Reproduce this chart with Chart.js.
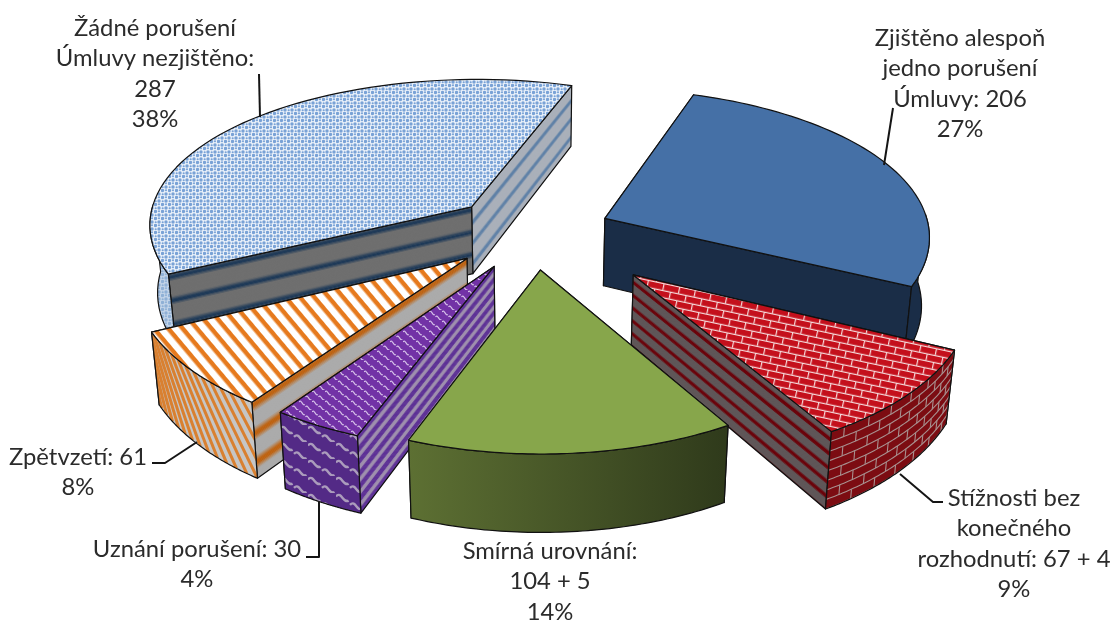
<!DOCTYPE html>
<html lang="cs">
<head>
<meta charset="utf-8">
<title>Výsledky stížností</title>
<script src="https://cdn.jsdelivr.net/npm/chart.js@4"></script>
<style>
  html, body { margin: 0; background: #fff; }
  canvas { display: block; }
</style>
</head>
<body>
<canvas id="pie" width="1111" height="621"></canvas>
<script>
'use strict';

// ─── Data ────────────────────────────────────────────────
const categories = [
  'Zjištěno alespoň jedno porušení Úmluvy',
  'Stížnosti bez konečného rozhodnutí',
  'Smírná urovnání',
  'Uznání porušení',
  'Zpětvzetí',
  'Žádné porušení Úmluvy nezjištěno',
];
const caseCounts = [206, 67 + 4, 104 + 5, 30, 61, 287];
const labelLines = [
  ['Zjištěno alespoň', 'jedno porušení', 'Úmluvy: 206', '27%'],
  ['Stížnosti bez', 'konečného', 'rozhodnutí: 67 + 4', '9%'],
  ['Smírná urovnání:', '104 + 5', '14%'],
  ['Uznání porušení: 30', '4%'],
  ['Zpětvzetí: 61', '8%'],
  ['Žádné porušení', 'Úmluvy nezjištěno:', '287', '38%'],
];

// ─── Layout of the labels and leader lines ───────────────
const labelAnchors = [[960, 38], [1014, 498], [550, 551], [197, 549], [78, 457], [155, 28]];
const leaderLines = [
  [[893, 108], [884, 165]],
  [[900, 474], [933, 502], [943, 502]],
  [],
  [[319, 502], [319, 557], [306, 557]],
  [[197, 442], [165, 463], [152, 463]],
  [[259, 74], [260, 117]],
];

// ─── Projection constants (flat pie -> tilted drum) ──────
const PERSPECTIVE = 0.107;
const TILT = 0.462;
const DEPTH = 68;
const CONVERGE = 0.02;

// ─── Textures ────────────────────────────────────────────
const ctx = document.getElementById('pie').getContext('2d');

function tile(w, h, paint, angle) {
  const c = document.createElement('canvas');
  c.width = w; c.height = h;
  paint(c.getContext('2d'), w, h);
  const p = ctx.createPattern(c, 'repeat');
  if (angle) p.setTransform(new DOMMatrix().rotate(angle));
  return p;
}

const speckleTile = (dot, bg) => tile(7, 7, (t) => {
  t.fillStyle = bg; t.fillRect(0, 0, 7, 7);
  t.fillStyle = dot;
  [[1.5, 1.5], [5, 5], [5, 1.2], [1.7, 5.2]].forEach(([x, y], i) => {
    t.beginPath(); t.arc(x, y, i < 2 ? 1.7 : 1.05, 0, Math.PI * 2); t.fill();
  });
});

const brickTile = tile(16, 14, (t) => {
  t.fillStyle = '#c4101c'; t.fillRect(0, 0, 16, 14);
  t.fillStyle = '#f6dcdc';
  t.fillRect(0, 5.8, 16, 1.2); t.fillRect(0, 12.8, 16, 1.2);
  t.fillRect(4, 0, 1.2, 5.8); t.fillRect(12, 7, 1.2, 5.8);
}, 12);

// horizontal bands turned to the stripe angle, so the repeat has no seam
const diagonalTile = tile(2, 11, (t) => {
  t.fillStyle = '#fff'; t.fillRect(0, 0, 2, 11);
  t.fillStyle = '#e67a1e'; t.fillRect(0, 3, 2, 4.5);
}, 50);

function weaveTile(bg, line, w, h, lw) {
  return tile(w, h, (t) => {
    t.fillStyle = bg; t.fillRect(0, 0, w, h);
    t.strokeStyle = line; t.lineWidth = lw;
    [[0, h * 0.2], [w / 2, h * 0.7], [-w / 2, h * 0.7]].forEach(([x, y]) => {
      t.beginPath();
      t.moveTo(x, y);
      t.bezierCurveTo(x + w * 0.2, y - h * 0.35, x + w * 0.25, y + h * 0.45, x + w * 0.45, y + h * 0.25);
      t.stroke();
    });
  });
}

// ─── Per-slice styling, in the order of the data ─────────
const redCut = { base: '#5f5658', stripe: '#6c0008', count: 5.5, phase: 0.9, width: 0.3, soft: 0.2 };
const purpleCut = { base: '#9f90ae', stripe: '#5c2e96', count: 6.4, phase: 0.3, width: 0.55, soft: 0.25 };
const orangeCut = { base: '#ababab', stripe: '#bf620f', count: 2.7, phase: 0.365, width: 0.3, soft: 0.4 };

const sliceStyles = [
  {
    top: '#4570a6',
    cuts: [{ base: '#1a2d47' }, { base: '#1a2d47' }],
    rim: () => '#1a2d47',
  },
  {
    top: brickTile,
    cuts: [redCut, redCut],
    rim: () => '#7c0c12',
    bricks: true,
  },
  {
    top: '#87a64b',
    cuts: [{ base: '#4e602a' }, { base: '#33401d' }],
    rim: (pts) => {
      const g = ctx.createLinearGradient(pts[0][0], 0, pts[pts.length - 1][0], 0);
      g.addColorStop(0, '#2f3a1b');
      g.addColorStop(1, '#5d7033');
      return g;
    },
  },
  {
    top: weaveTile('#7232a6', '#d4bfe8', 13, 10, 1.2),
    cuts: [purpleCut, purpleCut],
    rim: () => weaveTile('#532a86', '#ab9cbc', 28, 17, 2.4),
  },
  {
    top: diagonalTile,
    cuts: [orangeCut, orangeCut],
    rim: () => '#c6c6c6',
    slants: true,
  },
  {
    top: speckleTile('#79a2d6', '#e9f0f9'),
    cuts: [
      { base: '#6f6f6f', stripe: '#1f3a58', count: 3, phase: 0.35, width: 0.22, soft: 0.3 },
      { base: '#aab0ba', stripe: '#5a7ea6', count: 3.3, phase: 0.675, width: 0.25, soft: 0.25 },
    ],
    rim: () => speckleTile('#8fb0d6', '#c3d4e8'),
  },
];

const sliceOffsets = [78, 132, 80, 82, 86, 84];

// ─── Helpers ─────────────────────────────────────────────
const hexRgb = h => [1, 3, 5].map(i => parseInt(h.slice(i, i + 2), 16));

function mixColor(a, b, k) {
  const A = hexRgb(a), B = hexRgb(b);
  return `rgb(${A.map((v, i) => Math.round(v + (B[i] - v) * k)).join(',')})`;
}

function polygon(pts, fill, stroke) {
  ctx.beginPath();
  pts.forEach((p, i) => (i ? ctx.lineTo(p[0], p[1]) : ctx.moveTo(p[0], p[1])));
  ctx.closePath();
  if (fill) { ctx.fillStyle = fill; ctx.fill(); }
  if (stroke) { ctx.strokeStyle = '#111'; ctx.lineWidth = 1.2; ctx.lineJoin = 'round'; ctx.stroke(); }
}

function bandColor(cut, z) {
  const t = ((z * cut.count + cut.phase) % 1 + 1) % 1;
  const d = Math.abs(t - 0.5) * 2;
  const k = Math.min(1, Math.max(0, (cut.width - d) / cut.soft + 0.5));
  return mixColor(cut.base, cut.stripe, k);
}

// Pie element -> screen position; z runs 0 (top face) to 1 (bottom face)
function makeProjector(arc) {
  const R = arc.outerRadius;
  return (px, py, z) => {
    const s = 1 / (1 - PERSPECTIVE * (py / R));
    return [
      arc.x + px * s * (1 - CONVERGE * z),
      arc.y + py * TILT * Math.pow(s, 1.2) + DEPTH * z * s,
    ];
  };
}

function drawCut(project, A, P, cut) {
  const quad = [project(A[0], A[1], 0), project(P[0], P[1], 0), project(P[0], P[1], 1), project(A[0], A[1], 1)];
  polygon(quad, cut.base);
  if (cut.stripe) {
    const N = 60;
    for (let i = 0; i < N; i++) {
      const z0 = i / N, z1 = Math.min(1, (i + 1.4) / N);
      polygon([
        project(A[0], A[1], z0), project(P[0], P[1], z0),
        project(P[0], P[1], z1), project(A[0], A[1], z1),
      ], bandColor(cut, (z0 + z1) / 2));
    }
  }
  polygon(quad, null, true);
}

function drawRim(project, center, R, a0, a1, style) {
  // only the part of the wall turned towards the viewer
  const angles = [];
  for (let i = 0; i <= 60; i++) {
    const a = a0 + (a1 - a0) * i / 60;
    if (Math.sin(a) > -0.03) angles.push(a);
  }
  if (angles.length < 2) return;
  const at = (a, z) => project(center[0] + R * Math.cos(a), center[1] + R * Math.sin(a), z);
  const upper = angles.map(a => at(a, 0));
  const lower = angles.map(a => at(a, 1)).reverse();
  const outline = upper.concat(lower);
  polygon(outline, style.rim(upper));

  ctx.save();
  polygon(outline);
  ctx.clip();
  const first = angles[0], last = angles[angles.length - 1];
  if (style.bricks) {
    ctx.strokeStyle = '#a8908f'; ctx.lineWidth = 1.1;
    const courses = 8, step = 0.09;
    for (let c = 0; c <= courses; c++) {
      const z = c / courses;
      ctx.beginPath();
      angles.forEach((a, i) => { const p = at(a, z); i ? ctx.lineTo(p[0], p[1]) : ctx.moveTo(p[0], p[1]); });
      ctx.stroke();
      for (let a = first + (c % 2) * step / 2; a < last; a += step) {
        const p = at(a, z), q = at(a, z + 1 / courses);
        ctx.beginPath(); ctx.moveTo(p[0], p[1]); ctx.lineTo(q[0], q[1]); ctx.stroke();
      }
    }
  }
  if (style.slants) {
    ctx.strokeStyle = '#d98030'; ctx.lineWidth = 3;
    const step = 0.04, lean = 0.16;
    for (let a = first - 0.6; a < last + 0.6; a += step) {
      const p = at(a + lean, 0), q = at(a, 1);
      ctx.beginPath(); ctx.moveTo(p[0], p[1]); ctx.lineTo(q[0], q[1]); ctx.stroke();
    }
  }
  ctx.restore();
  polygon(outline, null, true);
}

function drawSlice(arc, style) {
  const { startAngle: a0, endAngle: a1, outerRadius: R } = arc;
  const mid = (a0 + a1) / 2;
  const off = arc.options.offset;
  const A = [off * Math.cos(mid), off * Math.sin(mid)];
  const P = a => [A[0] + R * Math.cos(a), A[1] + R * Math.sin(a)];
  const project = makeProjector(arc);

  // the wall further from the viewer goes down first
  const cuts = [[a0, style.cuts[0]], [a1, style.cuts[1]]];
  cuts.sort((p, q) => Math.sin(p[0]) - Math.sin(q[0]));
  cuts.forEach(([a, cut]) => drawCut(project, A, P(a), cut));
  drawRim(project, A, R, a0, a1, style);

  const top = [project(A[0], A[1], 0)];
  for (let i = 0; i <= 60; i++) {
    const p = P(a0 + (a1 - a0) * i / 60);
    top.push(project(p[0], p[1], 0));
  }
  polygon(top, style.top, true);
}

// ─── Plugin: drum drawing + labels ───────────────────────
const drumPlugin = {
  id: 'drum',
  beforeDatasetDraw(chart, args) {
    const arcs = args.meta.data.map((arc, i) => ({ arc, style: sliceStyles[i] }));
    arcs.sort((p, q) =>
      Math.sin((p.arc.startAngle + p.arc.endAngle) / 2) - Math.sin((q.arc.startAngle + q.arc.endAngle) / 2));
    arcs.forEach(({ arc, style }) => drawSlice(arc, style));
    return false;
  },
  afterDraw(chart) {
    const c = chart.ctx;
    c.save();
    c.strokeStyle = '#151515';
    c.lineWidth = 2;
    leaderLines.forEach(line => {
      if (!line.length) return;
      c.beginPath();
      line.forEach((p, i) => (i ? c.lineTo(p[0], p[1]) : c.moveTo(p[0], p[1])));
      c.stroke();
    });
    c.fillStyle = '#2b2b2b';
    c.font = "23.8px Lato, 'Open Sans', sans-serif";
    c.textAlign = 'center';
    c.textBaseline = 'middle';
    labelLines.forEach((lines, i) => {
      lines.forEach((text, k) => c.fillText(text, labelAnchors[i][0], labelAnchors[i][1] + k * 30.6));
    });
    c.restore();
  },
};

new Chart(ctx, {
  type: 'pie',
  data: {
    labels: categories,
    datasets: [{ data: caseCounts, offset: sliceOffsets, borderWidth: 0 }],
  },
  options: {
    responsive: false,
    animation: false,
    events: [],
    rotation: 19,
    radius: 325,
    layout: { padding: { right: 44, bottom: 157 } },
    plugins: { legend: { display: false }, tooltip: { enabled: false } },
  },
  plugins: [drumPlugin],
});
</script>
</body>
</html>
